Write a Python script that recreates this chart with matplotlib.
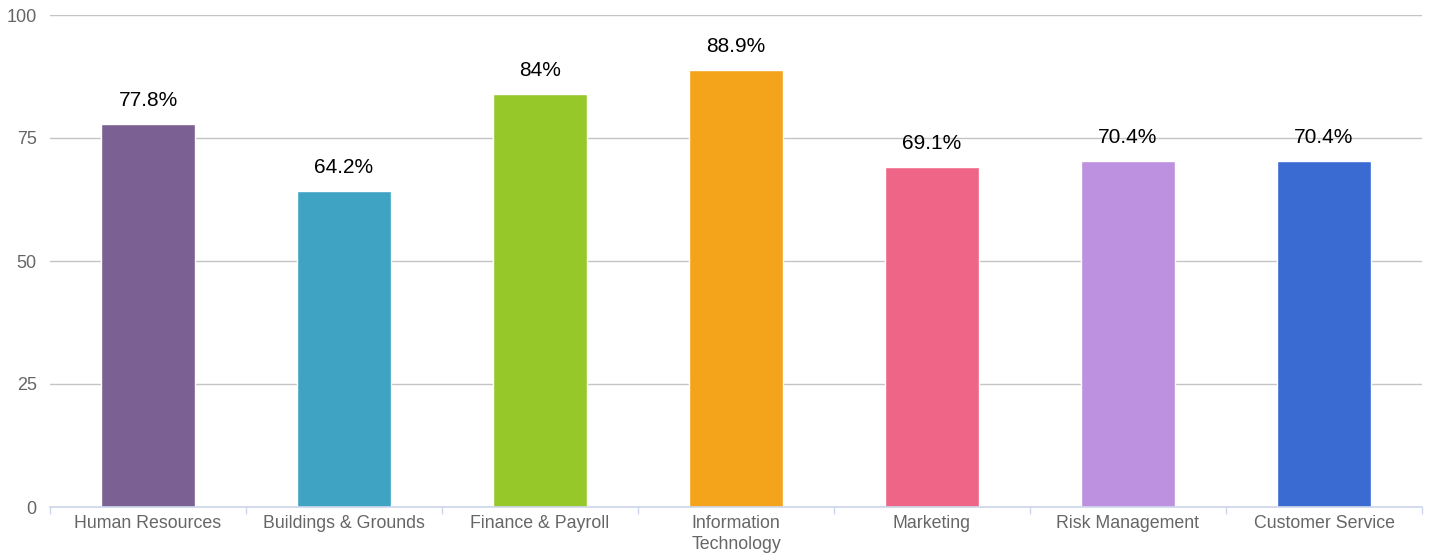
import matplotlib
matplotlib.use("Agg")
import matplotlib.pyplot as plt
import numpy as np

categories = ["Human Resources", "Buildings & Grounds", "Finance & Payroll",
              "Information\nTechnology", "Marketing", "Risk Management",
              "Customer Service"]
values = [77.8, 64.2, 84, 88.9, 69.1, 70.4, 70.4]
labels = ["77.8%", "64.2%", "84%", "88.9%", "69.1%", "70.4%", "70.4%"]
colors = ["#7b6093", "#3fa3c4", "#97c829", "#f4a41b", "#ef6587", "#bd90e0", "#3a6bd3"]
yticks = [0, 25, 50, 75, 100]

plt.rcParams['font.family'] = ['Liberation Sans', 'DejaVu Sans']

fig = plt.figure(figsize=(14.33, 5.58), dpi=100)
ax = fig.add_axes([50 / 1433, 51 / 558, 1372 / 1433, 492 / 558])

x = np.arange(len(categories))
ax.bar(x, values, width=0.475, color=colors, edgecolor="white", linewidth=1, zorder=3)

for xi, v, lab in zip(x, values, labels):
    ax.annotate(lab, (xi, v), xytext=(0, 10), textcoords="offset points",
                ha="center", va="bottom", fontsize=15, color="black")

ax.set_xlim(-0.5, len(categories) - 0.5)
ax.set_ylim(0, 100)
ax.set_yticks(yticks)
ax.yaxis.grid(True, color="#c4c4c4", linewidth=1, zorder=0)
ax.tick_params(axis="y", length=0, labelsize=13, labelcolor="#666666", pad=9.5)

ax.set_xticks(x)
ax.set_xticklabels(categories, fontsize=12.8, color="#666666", linespacing=1.25)
ax.tick_params(axis="x", length=0, pad=6)
# category boundary ticks
ax.set_xticks(np.arange(-0.5, len(categories)), minor=True)
ax.tick_params(axis="x", which="minor", length=5, color="#ccd6eb", width=1)

for s in ["top", "right", "left"]:
    ax.spines[s].set_visible(False)
ax.spines["bottom"].set_color("#ccd6eb")
ax.spines["bottom"].set_linewidth(1.2)
ax.spines["bottom"].set_zorder(4)

fig.savefig("out.png", dpi=100)
